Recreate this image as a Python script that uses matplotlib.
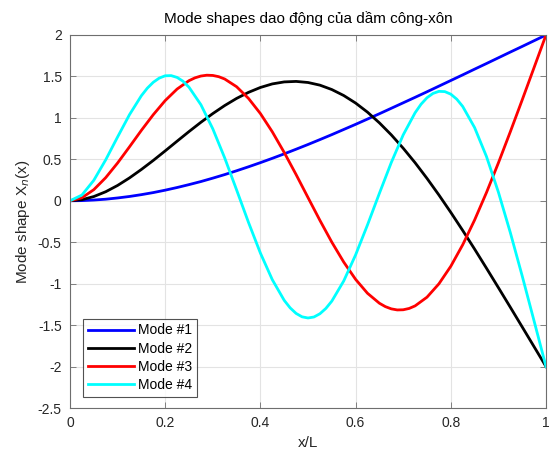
import matplotlib
matplotlib.use("Agg")
import matplotlib.pyplot as plt

x_vals = [i / 40 for i in range(41)]

mode1 = [0, 0.002, 0.009, 0.019, 0.034, 0.052, 0.074, 0.099, 0.128, 0.160, 0.195,
         0.232, 0.273, 0.316, 0.362, 0.410, 0.460, 0.512, 0.566, 0.622, 0.679,
         0.738, 0.798, 0.860, 0.922, 0.986, 1.050, 1.116, 1.182, 1.248, 1.315,
         1.383, 1.451, 1.519, 1.588, 1.656, 1.725, 1.794, 1.862, 1.931, 2.000]
mode2 = [0, 0.013, 0.051, 0.109, 0.185, 0.276, 0.378, 0.487, 0.602, 0.719, 0.835,
         0.947, 1.052, 1.149, 1.235, 1.308, 1.367, 1.410, 1.434, 1.440, 1.427,
         1.395, 1.342, 1.270, 1.179, 1.069, 0.940, 0.795, 0.634, 0.459, 0.270,
         0.070, -0.140, -0.358, -0.583, -0.814, -1.048, -1.284, -1.522, -1.761, -2.000]
mode3 = [0, 0.036, 0.134, 0.279, 0.456, 0.651, 0.850, 1.039, 1.209, 1.348, 1.449,
         1.505, 1.512, 1.469, 1.376, 1.235, 1.052, 0.832, 0.583, 0.316, 0.039,
         -0.236, -0.499, -0.739, -0.948, -1.116, -1.236, -1.304, -1.315, -1.268, -1.163,
         -1.002, -0.790, -0.531, -0.232, 0.100, 0.457, 0.832, 1.217, 1.608, 2.000]
mode4 = [0, 0.069, 0.247, 0.494, 0.770, 1.039, 1.268, 1.430, 1.508, 1.488, 1.370,
         1.159, 0.868, 0.517, 0.131, -0.261, -0.631, -0.952, -1.201, -1.359, -1.414,
         -1.363, -1.211, -0.968, -0.653, -0.291, 0.090, 0.462, 0.795, 1.062, 1.243,
         1.320, 1.286, 1.138, 0.883, 0.533, 0.104, -0.383, -0.907, -1.451, -2.000]

# extra readings near the peaks of the faster-varying modes
mode3_extra_x = [0.2625, 0.2875, 0.3125, 0.6625, 0.6875, 0.7125]
mode3_extra_y = [1.483, 1.515, 1.497, -1.277, -1.317, -1.299]
mode4_extra_x = [0.1625, 0.1875, 0.2125, 0.2375, 0.4625, 0.4875, 0.5125, 0.5375,
                 0.7375, 0.7625, 0.7875, 0.8125]
mode4_extra_y = [1.359, 1.480, 1.510, 1.442, -1.292, -1.400, -1.402, -1.299,
                 1.165, 1.295, 1.317, 1.226]

labels = ["Mode #1", "Mode #2", "Mode #3", "Mode #4"]
colors = ["#0000ff", "#000000", "#ff0000", "#00ffff"]

xticks = [0, 0.2, 0.4, 0.6, 0.8, 1]
xticklabels = ["0", "0.2", "0.4", "0.6", "0.8", "1"]
yticks = [-2.5, -2, -1.5, -1, -0.5, 0, 0.5, 1, 1.5, 2]
yticklabels = ["-2.5", "-2", "-1.5", "-1", "-0.5", "0", "0.5", "1", "1.5", "2"]


def merge(xs, ys, ex, ey):
    pts = sorted(list(zip(xs, ys)) + list(zip(ex, ey)))
    return [p[0] for p in pts], [p[1] for p in pts]


series = [
    (x_vals, mode1),
    (x_vals, mode2),
    merge(x_vals, mode3, mode3_extra_x, mode3_extra_y),
    merge(x_vals, mode4, mode4_extra_x, mode4_extra_y),
]

plt.rcParams['font.family'] = ['Liberation Sans', 'DejaVu Sans']

fig = plt.figure(figsize=(5.51, 4.53), dpi=100)
ax = fig.add_axes([70/551, 1-408/453, 476/551, 373/453])

for (xs, ys), lab, c in zip(series, labels, colors):
    ax.plot(xs, ys, color=c, lw=2.0, label=lab)

ax.set_xlim(0, 1)
ax.set_ylim(-2.5, 2)
ax.set_xticks(xticks)
ax.set_xticklabels(xticklabels)
ax.set_yticks(yticks)
ax.set_yticklabels(yticklabels)
ax.grid(True, color='#e3e3e3', lw=0.8)
ax.set_axisbelow(True)
for s in ax.spines.values():
    s.set_color('#6e6e6e')
    s.set_linewidth(0.8)
ax.tick_params(direction='in', top=True, right=True, length=4, width=0.6,
               colors='#6e6e6e', labelcolor='#262626', labelsize=10, pad=6)

ax.set_title("Mode shapes dao động của dầm công-xôn", fontsize=11, color='#000000', pad=9)
ax.set_xlabel("x/L", fontsize=11, color='#262626', labelpad=4)
ax.set_ylabel("Mode shape X$_n$(x)", fontsize=11, color='#262626', labelpad=4)

leg = ax.legend(loc='lower left', bbox_to_anchor=(0.027, 0.03), fontsize=10,
                frameon=True, fancybox=False, edgecolor='#262626',
                handlelength=3.3, handletextpad=0.3, borderpad=0.35,
                labelspacing=0.3, borderaxespad=0)
leg.get_frame().set_linewidth(0.8)

fig.savefig("out.png", dpi=100)
